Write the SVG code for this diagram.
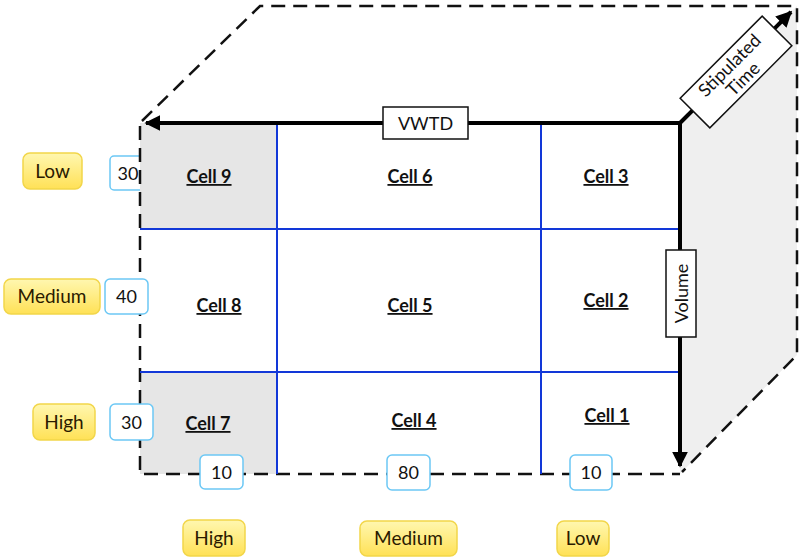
<svg xmlns="http://www.w3.org/2000/svg" width="800" height="559" viewBox="0 0 800 559">
<style>
.dash{fill:none;stroke:#111;stroke-width:2.5;stroke-dasharray:14 8}
.grid{stroke:#1238d8;stroke-width:2;fill:none}
.axis{stroke:#000;stroke-width:4;fill:none}
.cell{font-family:Lato,"Liberation Sans",sans-serif;font-weight:bold;font-size:18px;text-decoration:underline;text-anchor:middle;fill:#111}
.yb{fill:url(#yg);stroke:#f2d64a;stroke-width:1.5}
.yt{font-family:Lato,"Liberation Sans",sans-serif;font-size:19px;text-anchor:middle;fill:#2a1a00}
.nb{fill:#fff;stroke:#6cc8f5;stroke-width:1.5}
.nt{font-family:Lato,"Liberation Sans",sans-serif;font-size:18px;text-anchor:middle;fill:#111}
.lb{fill:#fff;stroke:#111;stroke-width:1.5}
.lt{font-family:Lato,"Liberation Sans",sans-serif;font-size:18px;text-anchor:middle;fill:#111}
</style>
<defs>
<linearGradient id="yg" x1="0" y1="0" x2="0" y2="1">
<stop offset="0" stop-color="#fff7b0"/>
<stop offset="1" stop-color="#ffe156"/>
</linearGradient>
<marker id="ah" viewBox="0 0 10 10" refX="9" refY="5" markerWidth="4" markerHeight="4" orient="auto" markerUnits="strokeWidth">
<path d="M0,0 L10,5 L0,10 Z" fill="#000"/>
</marker>
</defs>
<g id="side-face">
<polygon points="680,123 797,6 797,355 680,474" fill="#efefef"/>
</g>
<g id="label-row-low-count">
<rect class="nb" x="110" y="156" width="40" height="34" rx="4"/>
<text class="nt" x="128" y="179.5">30</text>
</g>
<g id="cell9"><rect x="140" y="123" width="137" height="106" fill="#e6e6e6"/><text class="cell" x="209" y="183">Cell 9</text></g>
<g id="cell7"><rect x="140" y="372" width="137" height="102" fill="#e6e6e6"/><text class="cell" x="208" y="430">Cell 7</text></g>
<g id="cell6"><text class="cell" x="410" y="183">Cell 6</text></g>
<g id="cell3"><text class="cell" x="606" y="183">Cell 3</text></g>
<g id="cell8"><text class="cell" x="219" y="312">Cell 8</text></g>
<g id="cell5"><text class="cell" x="410" y="312">Cell 5</text></g>
<g id="cell2"><text class="cell" x="606" y="307">Cell 2</text></g>
<g id="cell4"><text class="cell" x="414" y="427">Cell 4</text></g>
<g id="cell1"><text class="cell" x="607" y="422">Cell 1</text></g>
<g id="connectors">
<path class="dash" d="M142,121 L260,6 L797,6 L797,355 L682,472"/>
<path class="dash" d="M140,126 L140,474 L680,474"/>
<path class="grid" d="M277,123 V474 M541,123 V474 M140,229 H680 M140,372 H680"/>
<path class="axis" d="M680,123 H146" marker-end="url(#ah)"/>
<path class="axis" d="M680,123 V466" marker-end="url(#ah)"/>
<path class="axis" d="M680,123 L791,12" marker-end="url(#ah)"/>
</g>
<g id="vwtd"><rect class="lb" x="383" y="107" width="85" height="32"/><text class="lt" x="425.5" y="129.5">VWTD</text></g>
<g id="volume"><rect class="lb" x="666" y="250" width="30" height="87"/><text class="lt" transform="translate(681,293.5) rotate(-90)" x="0" y="6.5">Volume</text></g>
<g id="stipulated" transform="translate(736,72) rotate(-45)"><rect class="lb" x="-58" y="-21" width="116" height="42"/><text class="lt" x="0" y="-3">Stipulated</text><text class="lt" x="0" y="16">Time</text></g>
<g id="y-low"><rect class="yb" x="23" y="153" width="59" height="36" rx="7"/><text class="yt" x="52.5" y="177.5">Low</text></g>
<g id="y-medium"><rect class="yb" x="4" y="279" width="96" height="35" rx="7"/><text class="yt" x="52" y="303">Medium</text></g>
<g id="y-high"><rect class="yb" x="33" y="404" width="62" height="36" rx="7"/><text class="yt" x="64" y="428.5">High</text></g>
<g id="n-40"><rect class="nb" x="105" y="279" width="43" height="35" rx="5"/><text class="nt" x="126.5" y="303">40</text></g>
<g id="n-30b"><rect class="nb" x="110" y="404" width="43" height="36" rx="5"/><text class="nt" x="131.5" y="428.5">30</text></g>
<g id="n-10a"><rect class="nb" x="200" y="455" width="43" height="34" rx="5"/><text class="nt" x="221.5" y="478.5">10</text></g>
<g id="n-80"><rect class="nb" x="387" y="455" width="43" height="35" rx="5"/><text class="nt" x="408.5" y="479">80</text></g>
<g id="n-10b"><rect class="nb" x="570" y="455" width="42" height="35" rx="5"/><text class="nt" x="591" y="479">10</text></g>
<g id="x-high"><rect class="yb" x="183" y="520" width="62" height="36" rx="7"/><text class="yt" x="214" y="544.5">High</text></g>
<g id="x-medium"><rect class="yb" x="360" y="521" width="97" height="35" rx="7"/><text class="yt" x="408.5" y="545">Medium</text></g>
<g id="x-low"><rect class="yb" x="557" y="521" width="52" height="35" rx="7"/><text class="yt" x="583" y="545">Low</text></g>
</svg>
